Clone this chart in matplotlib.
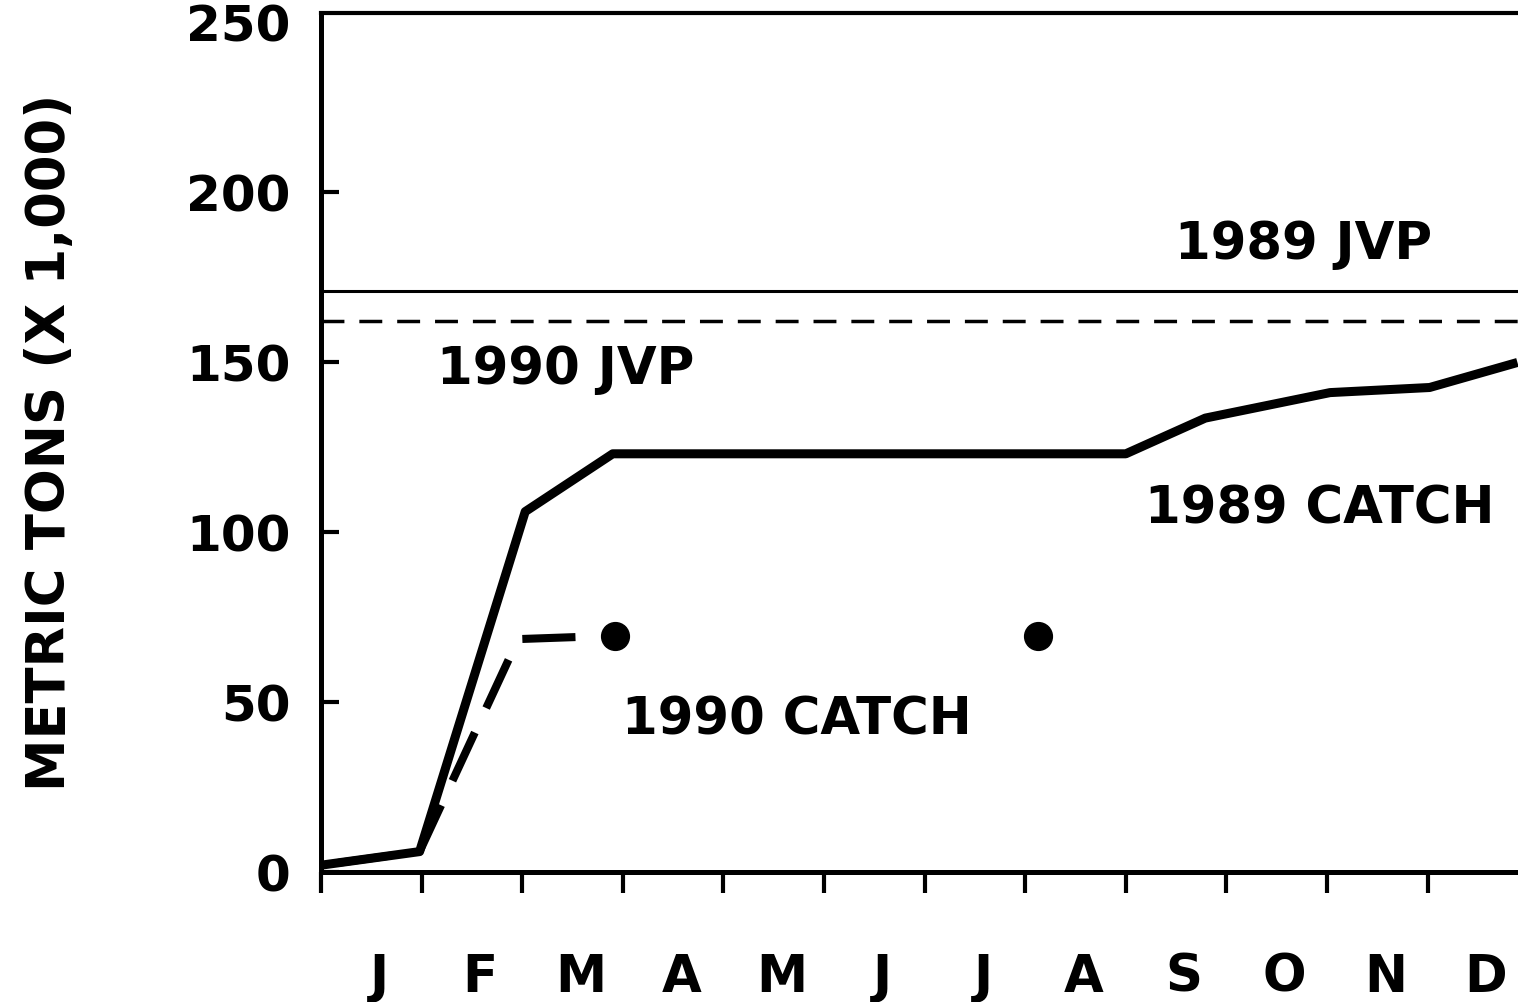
import numpy as np
import matplotlib.pyplot as plt

plt.rcParams['font.family'] = ['DejaVu Sans']
plt.rcParams['font.weight'] = 'bold'

# month labels along the bottom
months = ['J', 'F', 'M', 'A', 'M', 'J', 'J', 'A', 'S', 'O', 'N', 'D']

# 1989 cumulative catch (x = months since Jan 1, thousands of t)
catch89_x = [0, 0.98, 2.03, 2.9, 8.0, 8.79, 10.03, 11.02, 11.85]
catch89_y = [2, 6, 106, 123, 123, 133.5, 141, 142.5, 149.5]

# 1990 cumulative catch (dashed) and the two dot marks
catch90_x = [0, 0.98, 1.96, 2.92]
catch90_y = [2, 6, 68.5, 69.5]
dots90_x = [2.92, 7.13]
dots90_y = [69.5, 69.5]

# JVP allocations
jvp89 = 171
jvp90 = 162

yticks = [0, 50, 100, 150, 200, 250]


def main():
    fig = plt.figure(figsize=(15.18, 10.02), dpi=100)
    ax = fig.add_axes([321 / 1518, 130 / 1002, 1 - 321 / 1518, 859 / 1002])

    ax.axhline(jvp89, color='black', lw=2.2)
    ax.axhline(jvp90, color='black', lw=2.5, linestyle=(0, (6.6, 4.3)))

    ax.plot(catch89_x, catch89_y, color='black', lw=6.5)
    ax.plot(catch90_x, catch90_y, color='black', lw=5.8,
            linestyle=(7.8, (6.6, 3.35)))
    ax.plot(dots90_x, dots90_y, 'o', color='black', ms=20, linestyle='none')

    ax.set_xlim(0, (1518 - 321) / 100.6)
    ax.set_ylim(0, 859 / 3.4)

    ax.set_xticks(np.arange(0, 12))
    ax.set_xticklabels([])
    ax.tick_params(axis='x', direction='out', length=15, width=3)

    ax.set_yticks(yticks)
    ax.set_yticklabels([str(v) for v in yticks])
    ax.tick_params(axis='y', direction='in', length=13, width=3, pad=22,
                   labelsize=36)
    ax.yaxis.get_major_ticks()[-1].tick1line.set_visible(False)

    for side in ['left', 'bottom']:
        ax.spines[side].set_linewidth(3.6)
    ax.spines['top'].set_linewidth(3)
    ax.spines['right'].set_visible(False)

    for i, m in enumerate(months):
        ax.text(i + 0.58, -0.123, m, transform=ax.get_xaxis_transform(),
                ha='center', va='center', fontsize=37, fontweight='bold')

    ax.text(2.43, 147.6, '1990 JVP', ha='center', va='center', fontsize=37)
    ax.text(9.77, 184.4, '1989 JVP', ha='center', va='center', fontsize=37)
    ax.text(9.93, 106.5, '1989 CATCH', ha='center', va='center', fontsize=37)
    ax.text(4.73, 44.7, '1990 CATCH', ha='center', va='center', fontsize=37)

    fig.text(50 / 1518, 1 - 442 / 1002, 'METRIC TONS (X 1,000)', rotation=90,
             ha='center', va='center', fontsize=38, fontweight='bold')

    fig.savefig('out.png', dpi=100)


if __name__ == '__main__':
    main()
